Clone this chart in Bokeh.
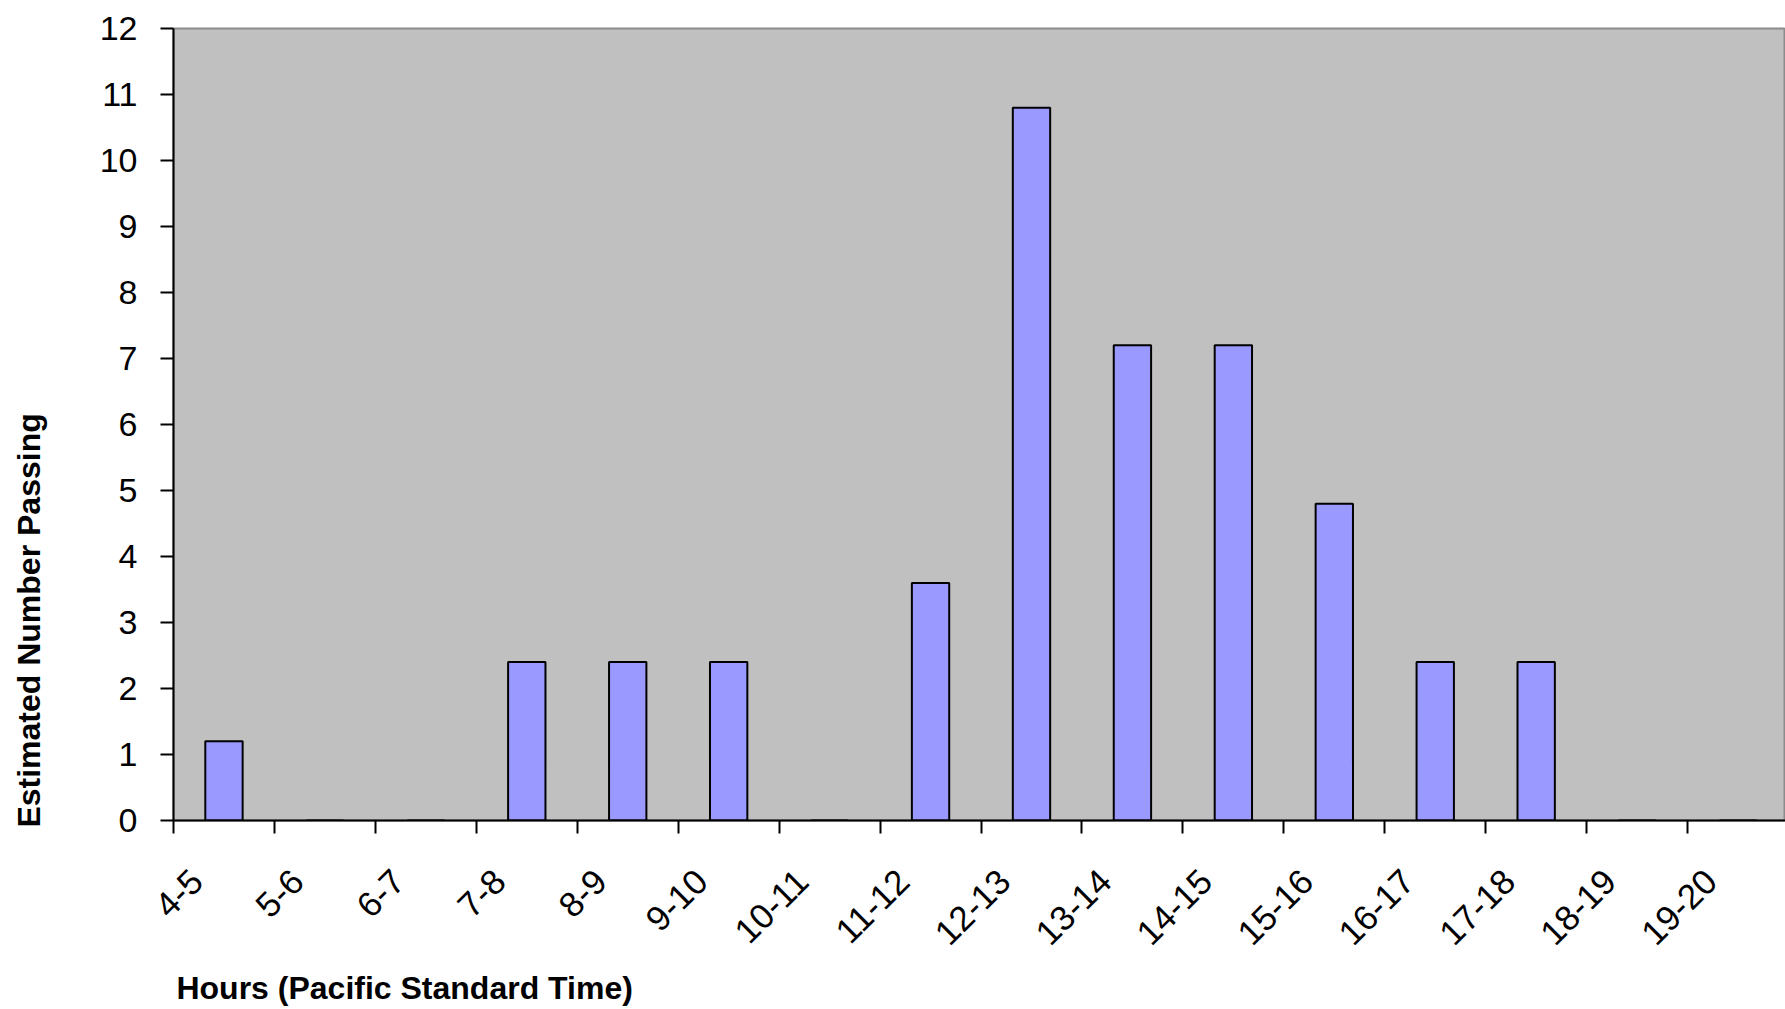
import math
from bokeh.plotting import figure
from bokeh.models import FixedTicker, Range1d, ColumnDataSource, CustomJSTickFormatter
from bokeh.embed import file_html
from bokeh.resources import INLINE

# ---- data ----
categories = ["4-5", "5-6", "6-7", "7-8", "8-9", "9-10", "10-11", "11-12",
              "12-13", "13-14", "14-15", "15-16", "16-17", "17-18", "18-19", "19-20"]
counts = [1.2, 0, 0, 2.4, 2.4, 2.4, 0, 3.6, 10.8, 7.2, 7.2, 4.8, 2.4, 2.4, 0, 0]
y_ticks = [0, 1, 2, 3, 4, 5, 6, 7, 8, 9, 10, 11, 12]
x_title = "Hours (Pacific Standard Time)"
y_title = "Estimated Number Passing"

# ---- layout / style ----
FONT = "Liberation Sans"
W, H = 1785, 1009
FRAME_L, FRAME_T, FRAME_B = 173, 28, 820
X_END, Y_END = 15.97, 12
label_shift = 0.27   # rotated labels end a little left of the category centre
# axis titles are centred on the axis start; leading no-break spaces shift the
# visible words so that they begin at the axis origin, as in the reference
NBSP = "\u00a0"
X_PAD, Y_PAD = 52, 45

x_centers = [i + 0.5 for i in range(len(categories))]
src = ColumnDataSource(dict(x=x_centers, top=counts, cat=categories))

p = figure(width=W, height=H, output_backend="svg", toolbar_location=None,
           title=None,
           x_range=Range1d(0, X_END), y_range=Range1d(0, Y_END),
           min_border_left=FRAME_L, min_border_right=0, min_border_top=FRAME_T,
           min_border_bottom=H - FRAME_B,
           background_fill_color="#C0C0C0", border_fill_color="white")

p.vbar(x="x", top="top", bottom=0, width=0.37, source=src,
       fill_color="#9999FF", line_color="black", line_width=2)

p.xgrid.visible = False
p.ygrid.visible = False
p.outline_line_color = "#8c8c8c"
p.outline_line_width = 2

# x axis: labels near centres, tick marks at category boundaries
xax = p.xaxis[0]
xax.ticker = FixedTicker(ticks=[c - label_shift for c in x_centers],
                         minor_ticks=list(range(0, len(categories) + 1)))
xax.formatter = CustomJSTickFormatter(
    args=dict(labels=categories, shift=label_shift),
    code="const i = Math.round(tick + shift - 0.5); const s = labels[i]; return s === undefined ? '' : s;")
xax.major_tick_out = 0
xax.major_tick_in = 0
xax.minor_tick_out = 13
xax.minor_tick_in = 0
xax.minor_tick_line_color = "black"
xax.minor_tick_line_width = 2
xax.axis_line_color = "black"
xax.axis_line_width = 2
xax.major_label_orientation = math.pi / 4
xax.major_label_text_font = FONT
xax.major_label_text_font_size = "35px"
xax.major_label_text_color = "black"
xax.major_label_standoff = 42

yax = p.yaxis[0]
yax.ticker = FixedTicker(ticks=y_ticks)
yax.major_tick_out = 13
yax.major_tick_in = 0
yax.major_tick_line_width = 2
yax.major_tick_line_color = "black"
yax.minor_tick_out = 0
yax.minor_tick_in = 0
yax.axis_line_color = "black"
yax.axis_line_width = 2
yax.major_label_text_font = FONT
yax.major_label_text_font_size = "34px"
yax.major_label_text_color = "black"
yax.major_label_standoff = 23

for ax, txt, pad, so in ((xax, x_title, X_PAD, 11), (yax, y_title, Y_PAD, 50)):
    ax.axis_label = NBSP * pad + txt
    ax.axis_label_align = "start"
    ax.axis_label_standoff = so
    ax.axis_label_text_font = FONT
    ax.axis_label_text_font_size = "32px"
    ax.axis_label_text_font_style = "bold"
    ax.axis_label_text_color = "black"

open("out.html", "w").write(file_html(p, INLINE))
